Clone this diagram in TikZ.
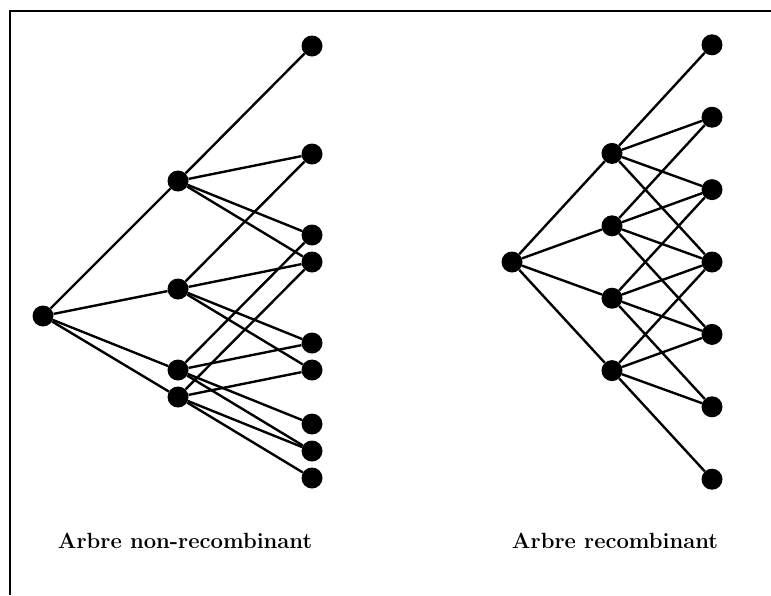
\documentclass[tikz,border=0pt]{standalone}
\usepackage{tikz}
\usetikzlibrary{positioning}

\tikzset{
  dot/.style={circle,fill=black,inner sep=0pt,minimum size=21pt},
  branch/.style={line width=2.4pt},
  caption/.style={font=\fontsize{22}{26}\selectfont\bfseries}
}

\begin{document}
\begin{tikzpicture}[x=1pt,y=-1pt]
  \useasboundingbox (0,0) rectangle (771,595);
  \draw[line width=1.4pt] (10,595) -- (10,11) -- (771,11);

  % arbre non-recombinant
  \node[dot] (l0) at (43,316) {};
  \foreach \i/\u in {1/-5,2/-1,3/2,4/3}
    \node[dot] (la\i) at (178,{316+27*\u}) {};
  \foreach \s in {-10,-6,-3,-2,1,2,4,5,6} {
    \pgfmathtruncatemacro\n{\s+10}
    \node[dot] (lb\n) at (312,{316+27*\s}) {};
  }
  \foreach \i/\u in {1/-5,2/-1,3/2,4/3} {
    \draw[branch] (l0) -- (la\i);
    \foreach \v in {-5,-1,2,3} {
      \pgfmathtruncatemacro\n{\u+\v+10}
      \draw[branch] (la\i) -- (lb\n);
    }
  }

  % arbre recombinant
  \node[dot] (r0) at (512,262) {};
  \foreach \i/\u in {1/-3,2/-1,3/1,4/3}
    \node[dot] (ra\i) at (612,{262+36.2*\u}) {};
  \foreach \s in {-6,-4,-2,0,2,4,6} {
    \pgfmathtruncatemacro\n{\s+6}
    \node[dot] (rb\n) at (712,{262+36.2*\s}) {};
  }
  \foreach \i/\u in {1/-3,2/-1,3/1,4/3} {
    \draw[branch] (r0) -- (ra\i);
    \foreach \v in {-3,-1,1,3} {
      \pgfmathtruncatemacro\n{\u+\v+6}
      \draw[branch] (ra\i) -- (rb\n);
    }
  }

  \node[caption] (capl) at (185,541) {Arbre non-recombinant};
  \node[caption] (capr) at (615,541) {Arbre recombinant};
\end{tikzpicture}
\end{document}
